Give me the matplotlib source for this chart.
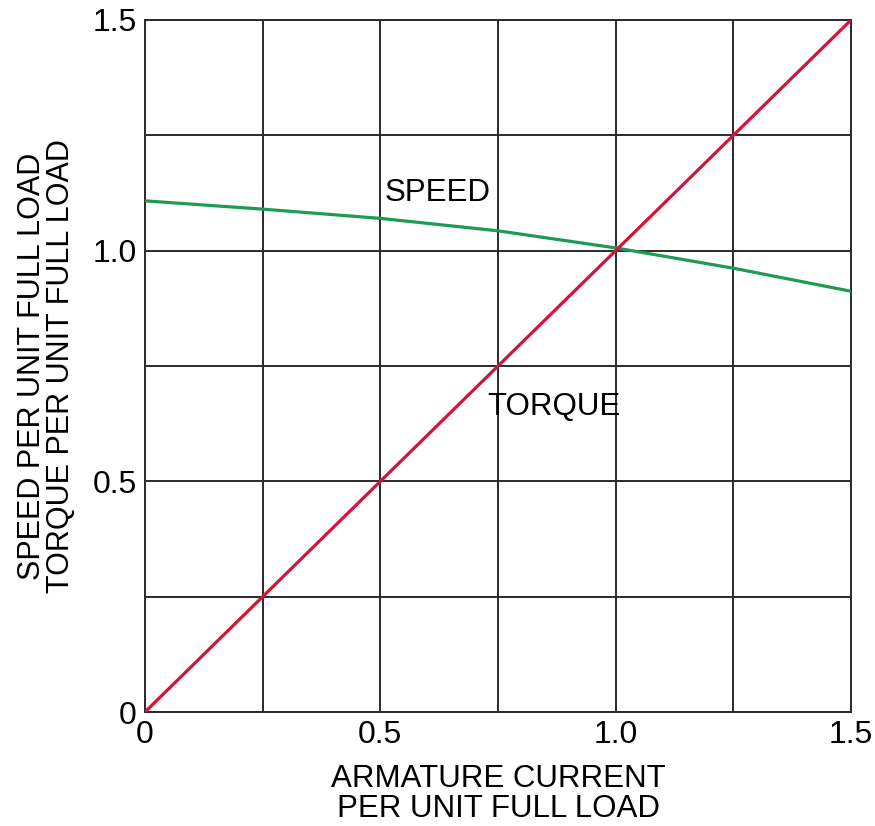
import numpy as np
import matplotlib.pyplot as plt

plt.rcParams.update({
    'font.family': 'Liberation Sans',
    'font.size': 20,
})

SPEED_COLOR = '#1e9a55'
TORQUE_COLOR = '#d2143c'
GRID_COLOR = '#2a2a2a'

# data
current = [0.0, 0.25, 0.5, 0.75, 1.0, 1.25, 1.5]
speed = [1.108, 1.090, 1.070, 1.043, 1.006, 0.962, 0.912]
torque_current = [0.0, 1.5]
torque = [0.0, 1.5]
ticks = [0, 0.5, 1.0, 1.5]
tick_labels = ['0', '0.5', '1.0', '1.5']
grid_steps = [0, 0.25, 0.5, 0.75, 1.0, 1.25, 1.5]

fig = plt.figure(figsize=(8.75, 8.26), dpi=100)
ax = fig.add_axes([0.1657, 0.138, 0.8069, 0.8378])

for g in grid_steps:
    ax.axvline(g, color=GRID_COLOR, lw=1.4, zorder=1)
    ax.axhline(g, color=GRID_COLOR, lw=1.4, zorder=1)

ax.plot(current, speed, color=SPEED_COLOR, lw=2.3, zorder=3)
ax.plot(torque_current, torque, color=TORQUE_COLOR, lw=2.3, zorder=3)

ax.text(0.51, 1.125, 'SPEED', fontsize=22.5, va='center', ha='left')
ax.text(0.727, 0.661, 'TORQUE', fontsize=22.5, va='center', ha='left')

ax.set_xlim(0, 1.5)
ax.set_ylim(0, 1.5)
ax.set_xticks(ticks)
ax.set_xticklabels(tick_labels)
ax.set_yticks(ticks)
ax.set_yticklabels(tick_labels)
ax.tick_params(length=0, labelsize=23, pad=6)
for s in ax.spines.values():
    s.set_color(GRID_COLOR)
    s.set_linewidth(1.4)

ax.set_xlabel('ARMATURE CURRENT\nPER UNIT FULL LOAD', fontsize=22.5,
              labelpad=10, linespacing=1.0)
ax.set_ylabel('SPEED PER UNIT FULL LOAD\nTORQUE PER UNIT FULL LOAD', fontsize=22,
              labelpad=12, linespacing=0.95)

fig.savefig('out.png', dpi=100)
